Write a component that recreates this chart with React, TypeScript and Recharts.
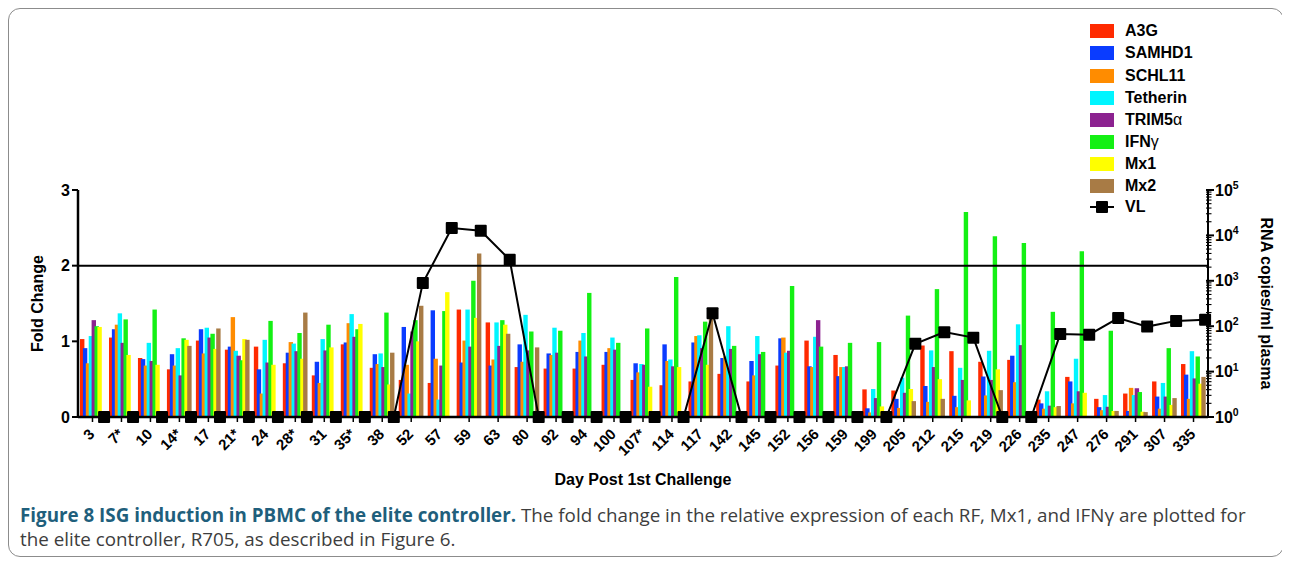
import React from 'react';
import { ComposedChart, Bar, Line, XAxis, YAxis, ReferenceLine, Legend, Label } from 'recharts';

// ---------- data ----------
const days = ['3', '7*', '10', '14*', '17', '21*', '24', '28*', '31', '35*', '38', '52', '57', '59', '63', '80', '92', '94', '100', '107*', '114', '117', '142', '145', '152', '156', '159', '199', '205', '212', '215', '219', '226', '235', '247', '276', '291', '307', '335'];

const a3g = [1.03, 1.05, 0.78, 0.63, 1.01, 0.89, 0.93, 0.71, 0.55, 0.96, 0.65, 0.49, 0.45, 1.42, 1.25, 0.66, 0.64, 0.64, 0.69, 0.49, 0.42, 0.47, 0.57, 0.47, 0.68, 1.01, 0.82, 0.365, 0.35, 0.945, 0.87, 0.73, 0.755, 0.23, 0.53, 0.24, 0.31, 0.47, 0.70];
const samhd1 = [0.91, 1.16, 0.765, 0.83, 1.16, 0.93, 0.63, 0.85, 0.73, 0.985, 0.83, 1.19, 1.41, 0.72, 0.68, 0.96, 0.84, 0.86, 0.86, 0.71, 0.96, 0.985, 0.78, 0.74, 1.04, 0.67, 0.54, 0.115, 0.24, 0.41, 0.28, 0.535, 0.81, 0.18, 0.47, 0.13, 0.08, 0.27, 0.56];
const schl11 = [0.71, 1.22, 0.68, 0.68, 0.84, 1.32, 0.31, 0.99, 0.45, 1.24, 0.70, 0.69, 0.77, 1.01, 0.76, 0.73, 0.82, 1.01, 0.91, 0.59, 0.74, 1.07, 0.80, 0.55, 1.05, 0.66, 0.66, 0.06, 0.12, 0.20, 0.13, 0.285, 0.46, 0.11, 0.18, 0.09, 0.385, 0.11, 0.24];
const tetherin = [1.07, 1.37, 0.98, 0.91, 1.18, 0.875, 1.02, 0.97, 1.03, 1.36, 0.84, 0.31, 0.23, 1.42, 1.25, 1.35, 1.18, 1.11, 1.05, 0.70, 0.76, 1.08, 1.20, 1.07, 0.85, 1.06, 0.66, 0.37, 0.52, 0.88, 0.65, 0.875, 1.225, 0.34, 0.77, 0.29, 0.29, 0.45, 0.87];
const trim5a = [1.28, 0.98, 0.74, 0.55, 1.05, 0.81, 0.72, 0.87, 0.88, 1.06, 0.66, 1.13, 0.68, 0.93, 0.94, 0.88, 0.85, 0.80, 0.89, 0.69, 0.67, 0.91, 0.90, 0.83, 0.875, 1.28, 0.67, 0.25, 0.32, 0.66, 0.49, 0.49, 0.95, 0.15, 0.34, 0.135, 0.38, 0.27, 0.51];
const ifng = [1.20, 1.29, 1.42, 1.04, 1.10, 0.75, 1.27, 1.11, 1.22, 1.16, 1.38, 1.28, 1.40, 1.80, 1.28, 1.13, 1.14, 1.64, 0.98, 1.17, 1.85, 1.26, 0.94, 0.86, 1.73, 0.93, 0.98, 0.99, 1.34, 1.69, 2.71, 2.39, 2.30, 1.39, 2.19, 1.14, 0.33, 0.91, 0.80];
const mx1 = [1.19, 0.82, 0.69, 1.02, 0.90, 1.03, 0.69, 0.77, 0.92, 1.23, 0.43, 1.00, 1.65, 1.31, 1.22, null, null, null, null, 0.40, 0.66, 0.69, null, null, null, null, null, 0.14, 0.37, 0.50, 0.22, 0.63, null, 0.13, 0.32, 0.08, 0.07, 0.16, 0.44];
const mx2 = [null, null, null, 0.94, 1.17, 1.02, null, 1.38, null, null, 0.85, 1.47, null, 2.16, 1.10, 0.92, null, null, null, null, null, 1.34, null, null, null, null, null, null, 0.21, 0.24, null, 0.355, null, 0.145, null, 0.08, 0.065, 0.25, 0.53];

// viral load, RNA copies/ml plasma
const vlCopies = [1, 1, 1, 1, 1, 1, 1, 1, 1, 1, 1, 890, 14500, 12700, 2900, 1, 1, 1, 1, 1, 1, 194, 1, 1, 1, 1, 1, 1, 41, 74, 56, 1, 1, 67, 65, 151, 98, 131, 138];

const seriesKeys = ['a3g', 'samhd1', 'schl11', 'tetherin', 'trim5a', 'ifng', 'mx1', 'mx2'];
const seriesNames = ['A3G', 'SAMHD1', 'SCHL11', 'Tetherin', 'TRIM5α', 'IFNγ', 'Mx1', 'Mx2'];
const seriesColors = ['#ff2a00', '#0a3cff', '#ff8c00', '#00f5ff', '#8c2290', '#14f014', '#ffff00', '#a87b45'];
const seriesValues = [a3g, samhd1, schl11, tetherin, trim5a, ifng, mx1, mx2];

const foldTicks = [0, 1, 2, 3];
const foldThreshold = 2;
const vlExponents = [0, 1, 2, 3, 4, 5];

// ---------- derived tables ----------
const barData = days.map((day, i) => {
  const row: Record<string, any> = { day };
  seriesKeys.forEach((k, s) => { row[k] = seriesValues[s][i]; });
  return row;
});
const vlData = days.map((day, i) => ({ idx: i, day, vl: vlCopies[i] }));

const vlTicks: number[] = [];
vlExponents.forEach((e) => {
  if (e === vlExponents[vlExponents.length - 1]) { vlTicks.push(Math.pow(10, e)); return; }
  for (let m = 1; m <= 9; m++) vlTicks.push(m * Math.pow(10, e));
});

const FONT = '"Liberation Sans", Arial, Helvetica, sans-serif';

// ---------- custom renderers ----------
const XTick = (props: any) => {
  const { x, y, payload } = props;
  const ax = x + 3;
  const ay = y + 10;
  return (
    <text x={ax} y={ay} textAnchor="end" transform={`rotate(-45, ${ax}, ${ay})`}
      fontSize={15} fontWeight={700} fill="#000" fontFamily={FONT}>
      {payload.value}
    </text>
  );
};

const RightTick = (props: any) => {
  const { x, y, payload } = props;
  const v = payload.value;
  const e = Math.log10(v);
  const major = Math.abs(e - Math.round(e)) < 1e-6;
  return (
    <g>
      <line x1={x - 2} x2={x + (major ? 6 : 3.5)} y1={y} y2={y} stroke="#000" strokeWidth={major ? 2 : 1.1} />
      {major && (
        <text x={x + 7} y={y} dy={5.5} fontSize={16} fontWeight={700} fill="#000" fontFamily={FONT}>
          10<tspan dy={-6.5} fontSize={10.5}>{Math.round(e)}</tspan>
        </text>
      )}
    </g>
  );
};

const AxisTitle = (props: any) => {
  const { viewBox, text, offX = 0, offY = 0, rot = 0 } = props;
  const cx = viewBox.x + viewBox.width / 2 + offX;
  const cy = viewBox.y + viewBox.height / 2 + offY;
  return (
    <text x={cx} y={cy} textAnchor="middle" dominantBaseline="central"
      transform={rot ? `rotate(${rot}, ${cx}, ${cy})` : undefined}
      fontSize={16} fontWeight={700} fill="#000" fontFamily={FONT}>
      {text}
    </text>
  );
};

const renderSquare = (p: any) => {
  const { cx, cy, index } = p;
  if (cx == null || cy == null) return <g key={`vl-${index}`} />;
  return <rect key={`vl-${index}`} x={cx - 6} y={cy - 6} width={12} height={12} rx={1} fill="#000" />;
};

const renderName = (n: string) => {
  const last = n.slice(-1);
  if (last === 'α' || last === 'γ') {
    return (<span>{n.slice(0, -1)}<span style={{ fontWeight: 400 }}>{last}</span></span>);
  }
  return <span>{n}</span>;
};

const LegendBox = () => (
  <div style={{ fontFamily: FONT, fontWeight: 700, fontSize: 16, color: '#000', lineHeight: 1 }}>
    {seriesNames.map((n, s) => (
      <div key={n} style={{ display: 'flex', alignItems: 'center', height: 22.1 }}>
        <div style={{ width: 24, height: 14, background: seriesColors[s], marginRight: 11 }} />
        {renderName(n)}
      </div>
    ))}
    <div style={{ display: 'flex', alignItems: 'center', height: 19 }}>
      <div style={{ position: 'relative', width: 24, height: 14, marginRight: 11 }}>
        <div style={{ position: 'absolute', left: 0, right: 0, top: 6, height: 2, background: '#000' }} />
        <div style={{ position: 'absolute', left: 6, top: 1, width: 12, height: 12, background: '#000', borderRadius: 1 }} />
      </div>
      <span>VL</span>
    </div>
  </div>
);

export default function App() {
  return (
    <div style={{ position: 'relative', width: 1274, height: 547, border: '1px solid #8c8c8c', borderRadius: 12, background: '#fff', fontFamily: FONT }}>
      <div style={{ position: 'absolute', left: 0, top: 0 }}>
        <ComposedChart width={1274} height={500} data={barData}
          margin={{ top: 181, right: 0, bottom: 12, left: 0 }}
          barSize={4.4} barGap={-1.5}>
          <XAxis xAxisId="cat" dataKey="day" interval={0} height={80}
            tick={<XTick />} tickSize={5} tickMargin={3}
            tickLine={{ stroke: '#000', strokeWidth: 1.5 }}
            axisLine={{ stroke: '#000', strokeWidth: 2.5 }}>
            <Label content={<AxisTitle text="Day Post 1st Challenge" offY={22} />} />
          </XAxis>
          <XAxis xAxisId="num" type="number" dataKey="idx" domain={[-0.9, 38.1]} hide />
          <YAxis yAxisId="left" domain={[0, 3]} ticks={foldTicks} interval={0} width={69}
            tick={{ fontSize: 16, fontWeight: 700, fill: '#000', fontFamily: FONT }}
            tickLine={{ stroke: '#000', strokeWidth: 2 }}
            axisLine={{ stroke: '#000', strokeWidth: 2.5 }}>
            <Label content={<AxisTitle text="Fold Change" offX={-6.5} rot={-90} />} />
          </YAxis>
          <YAxis yAxisId="right" orientation="right" scale="log" domain={[1, 100000]}
            ticks={vlTicks} interval={0} width={75}
            tick={<RightTick />} tickLine={false} tickSize={0} tickMargin={0}
            axisLine={{ stroke: '#000', strokeWidth: 2 }}>
            <Label content={<AxisTitle text="RNA copies/ml plasma" offX={20.5} rot={90} />} />
          </YAxis>
          {seriesKeys.map((k, s) => (
            <Bar key={k} dataKey={k} name={seriesNames[s]} xAxisId="cat" yAxisId="left"
              fill={seriesColors[s]} isAnimationActive={false} />
          ))}
          <ReferenceLine y={foldThreshold} xAxisId="cat" yAxisId="left" stroke="#000" strokeWidth={2} />
          <Line data={vlData} dataKey="vl" name="VL" xAxisId="num" yAxisId="right"
            stroke="#000" strokeWidth={2} dot={renderSquare} activeDot={false}
            isAnimationActive={false} />
          <Legend layout="vertical" verticalAlign="middle" align="center"
            wrapperStyle={{ left: 1081, top: 11.3, width: 160, height: 200 }}
            content={() => <LegendBox />} />
        </ComposedChart>
      </div>
      <div style={{ position: 'absolute', left: 11, top: 494, fontFamily: '"Open Sans", sans-serif', fontSize: 18.8, lineHeight: '24px', color: '#3d3d3d', whiteSpace: 'nowrap' }}>
        <span style={{ fontWeight: 700, color: '#1f5f7c' }}>Figure 8 ISG induction in PBMC of the elite controller.</span>{' '}
        The fold change in the relative expression of each RF, Mx1, and IFNγ are plotted for
        <br />
        the elite controller, R705, as described in Figure 6.
      </div>
    </div>
  );
}
